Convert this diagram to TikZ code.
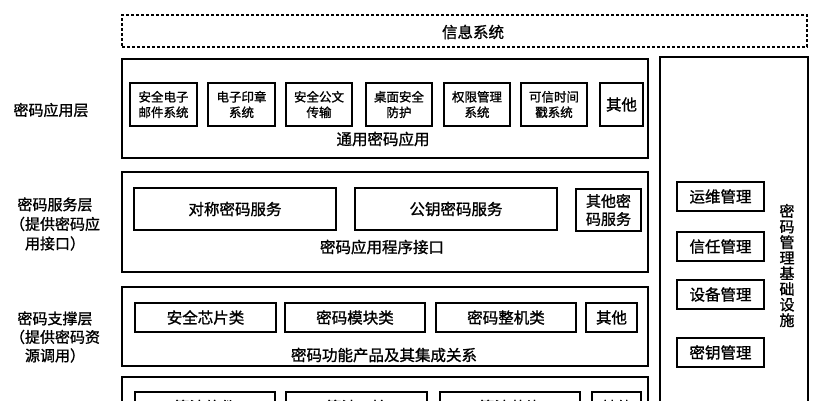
\documentclass[tikz,border=0pt]{standalone}
\usepackage{fontspec}
\setmainfont{Noto Sans CJK SC}[FakeBold=1.2]
\begin{document}
\begin{tikzpicture}[x=1pt,y=-1pt,
  box/.style={draw, line width=1.4pt, inner sep=0pt, align=center, rectangle},
  sm/.style={font=\fontsize{12.5}{15.5}\selectfont},
  md/.style={font=\fontsize{15.5}{19}\selectfont},
  lab/.style={align=center, inner sep=0pt, font=\fontsize{15}{19}\selectfont}]
\useasboundingbox (0,0) rectangle (817,400);
\clip (0,0) rectangle (817,400);
% information system
\node[box, dash pattern=on 3pt off 2pt, line width=1.2pt, minimum width=685, minimum height=32] (info) at (464.5,31) {};
\node[md, inner sep=0pt] (infot) at (473,32) {信息系统};
% outer layer boxes
\node[box, minimum width=526, minimum height=99] (app) at (385,108.5) {};
\node[box, minimum width=526, minimum height=100] (svc) at (385,222) {};
\node[box, minimum width=526, minimum height=79] (sup) at (385,326.5) {};
\node[box, minimum width=526, minimum height=63] (alg) at (385,408.5) {};
\node[box, minimum width=148, minimum height=383] (mgmt) at (734,248.5) {};
% left labels
\node[lab] (l1) at (51,110) {密码应用层};
\node[lab, font=\fontsize{15}{19.5}\selectfont] (l2) at (55,224) {密码服务层\\（提供密码应\\用接口）};
\node[lab, font=\fontsize{15}{18.5}\selectfont] (l3) at (55,337) {密码支撑层\\（提供密码资\\源调用）};
% application layer
\node[box, sm, minimum width=67, minimum height=43] (a1) at (163.5,104.5) {安全电子\\邮件系统};
\node[box, sm, minimum width=67, minimum height=43] (a2) at (241.5,104.5) {电子印章\\系统};
\node[box, sm, minimum width=66, minimum height=43] (a3) at (319,104.5) {安全公文\\传输};
\node[box, sm, minimum width=66, minimum height=43] (a4) at (399,104.5) {桌面安全\\防护};
\node[box, sm, minimum width=66, minimum height=43] (a5) at (477,104.5) {权限管理\\系统};
\node[box, sm, minimum width=66, minimum height=43] (a6) at (554,104.5) {可信时间\\戳系统};
\node[box, md, minimum width=43, minimum height=43] (a7) at (621.5,104.5) {其他};
\node[md, inner sep=0pt] (appt) at (383,139) {通用密码应用};
% service layer
\node[box, md, minimum width=202, minimum height=42] (s1) at (235,209) {对称密码服务};
\node[box, md, minimum width=202, minimum height=42] (s2) at (456,209) {公钥密码服务};
\node[box, md, minimum width=65, minimum height=42, font=\fontsize{15}{18}\selectfont] (s3) at (608.5,210) {其他密\\码服务};
\node[md, inner sep=0pt] (svct) at (382,247) {密码应用程序接口};
% support layer
\node[box, md, minimum width=141, minimum height=29] (p1) at (205.5,317.5) {安全芯片类};
\node[box, md, minimum width=140, minimum height=29] (p2) at (355,317.5) {密码模块类};
\node[box, md, minimum width=140, minimum height=29] (p3) at (506,317.5) {密码整机类};
\node[box, md, minimum width=51, minimum height=29] (p4) at (611.5,317.5) {其他};
\node[md, inner sep=0pt] (supt) at (384,355) {密码功能产品及其集成关系};
% algorithm layer (cut off at the picture's lower edge, as in the reference)
\node[box, md, minimum width=140, minimum height=30] (g1) at (205,407) {算法软件};
\node[box, md, minimum width=141, minimum height=30] (g2) at (356.5,407) {算法IP核};
\node[box, md, minimum width=140, minimum height=30] (g3) at (510,407) {算法芯片};
\node[box, md, minimum width=49, minimum height=30] (g4) at (616.5,407) {其他};
% management infrastructure
\node[box, md, minimum width=87, minimum height=29] (m1) at (720.5,196.5) {运维管理};
\node[box, md, minimum width=87, minimum height=29] (m2) at (720.5,246.5) {信任管理};
\node[box, md, minimum width=87, minimum height=29] (m3) at (720.5,294.5) {设备管理};
\node[box, md, minimum width=87, minimum height=29] (m4) at (720.5,352.5) {密钥管理};
\node[align=center, inner sep=0pt, font=\fontsize{15}{15.6}\selectfont] (mt) at (787,265.5) {密\\码\\管\\理\\基\\础\\设\\施};
\end{tikzpicture}
\end{document}
